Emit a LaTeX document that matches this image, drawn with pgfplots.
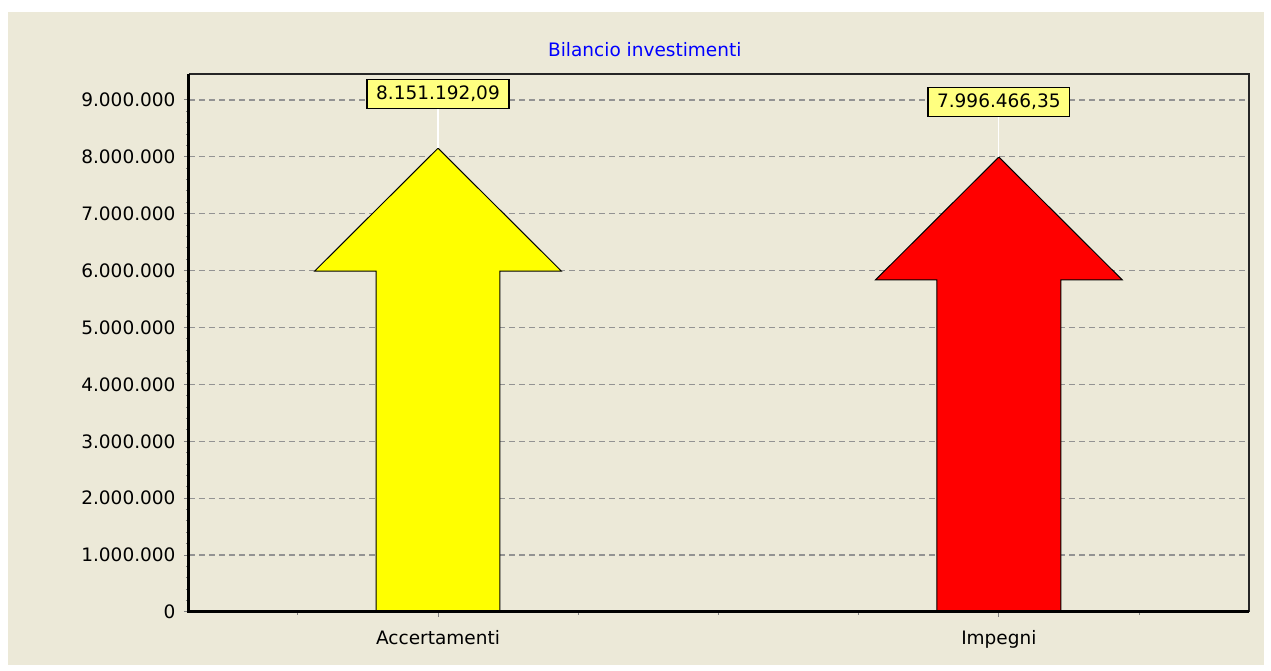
\documentclass[border=0pt]{standalone}
\usepackage{pgfplots}
\pgfplotsset{compat=1.18}
\usepackage{fontspec}
\setmainfont{DejaVu Sans}
\definecolor{panel}{RGB}{236,233,216}
\definecolor{gridgray}{RGB}{128,128,128}
\definecolor{tipfill}{RGB}{255,255,128}
\definecolor{titleblue}{RGB}{0,0,255}
\definecolor{arrowyellow}{RGB}{255,255,0}
\definecolor{arrowred}{RGB}{255,0,0}

\begin{document}
\begin{tikzpicture}[x=1bp,y=1bp]
% page = 1271x671 px, axis origin at pixel (189,612)
\useasboundingbox (-189,-59) rectangle (1082,612);
\fill[white] (-189,-59) rectangle (1082,612);
\fill[panel] (-181,-53) rectangle (1075,600);

\begin{axis}[
    at={(0,0)}, anchor=south west,
    scale only axis,
    width=1060bp, height=538bp,
    xmin=-0.444, xmax=1.446,
    ymin=0, ymax=9456000,
    axis line style={draw=none},
    xtick={0,1},
    xticklabels={Accertamenti, Impegni},
    minor xtick={-0.25,0.25,0.5,0.75,1.25},
    ytick={0,1000000,2000000,3000000,4000000,5000000,6000000,7000000,8000000,9000000},
    minor y tick num=4,
    scaled y ticks=false,
    tick label style={font=\fontsize{18.5bp}{22bp}\selectfont, text=black},
    xticklabel style={yshift=-10bp},
    yticklabel style={xshift=-5bp, /pgf/number format/.cd, fixed, precision=0, 1000 sep={.}},
    /pgf/number format/assume math mode=true,
    tick align=outside,
    xtick pos=bottom, ytick pos=left,
    major tick length=5bp, minor tick length=3bp,
    tick style={gridgray, line width=1bp},
    ymajorgrids=true,
    major grid style={gridgray!85, line width=1.3bp, dash pattern=on 6bp off 4bp},
    clip=false,
]
% Accertamenti arrow
\addplot[fill=arrowyellow, draw=black, line width=1bp] coordinates {
    (-0.1105,0) (-0.1105,5991192) (-0.220,5991192) (0,8151192.09)
    (0.220,5991192) (0.1105,5991192) (0.1105,0)
} -- cycle;
% Impegni arrow
\addplot[fill=arrowred, draw=black, line width=1bp] coordinates {
    (0.8895,0) (0.8895,5836466) (0.780,5836466) (1,7996466.35)
    (1.220,5836466) (1.1105,5836466) (1.1105,0)
} -- cycle;

\draw[white, line width=1.2bp] (axis cs:0,8151192.09) -- (axis cs:0,9105000);
\draw[white, line width=1.2bp] (axis cs:1,7996466.35) -- (axis cs:1,8965000);
\node[fill=tipfill, draw=black, line width=1.5bp, minimum height=29bp, inner xsep=9bp,
      font=\fontsize{18.5bp}{22bp}\selectfont] at (axis cs:0,9105000) {8.151.192,09};
\node[fill=tipfill, draw=black, line width=1.5bp, minimum height=29bp, inner xsep=9bp,
      font=\fontsize{18.5bp}{22bp}\selectfont] at (axis cs:1,8965000) {7.996.466,35};

% frame
\draw[black!85, line width=2bp] (rel axis cs:0,1) -- (rel axis cs:1,1) -- (rel axis cs:1,0);
\draw[black, line width=3bp] (rel axis cs:0,1) -- (rel axis cs:0,0) -- (rel axis cs:1,0);

\node[font=\fontsize{18.5bp}{22bp}\selectfont, text=titleblue] at (rel axis cs:0.43,1.045) {Bilancio investimenti};
\end{axis}
\end{tikzpicture}
\end{document}
